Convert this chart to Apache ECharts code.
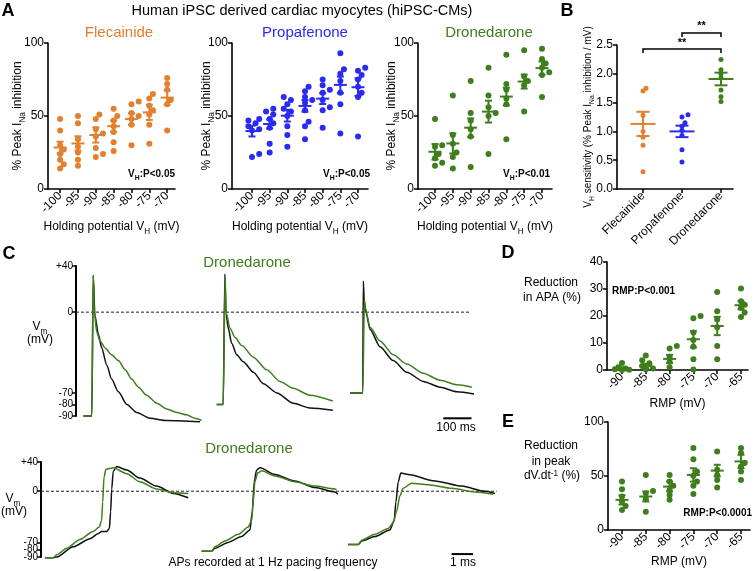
<!DOCTYPE html>
<html><head><meta charset="utf-8">
<script src="https://cdn.jsdelivr.net/npm/echarts@6/dist/echarts.min.js"></script>
<style>html,body{margin:0;padding:0;background:#fff}#c{width:756px;height:571px}</style>
</head><body><div id="c"></div>
<script>
const ORANGE = '#E2802F', BLUE = '#2A2AF2', GREEN = '#3E7E1C', BLACK = '#111';
const FONT = 'Arial, "Liberation Sans", Helvetica, sans-serif';

// ---------- Panel A : holding potential vs % peak INa inhibition ----------
const holdingPotentials = [-100, -95, -90, -85, -80, -75, -70];
const flecainideValues = [[48,40,30,27,24,20,17,14],[50,45,34,29,25,20,16],[51,48,41,38,36,28,24,22],[55,50,47,43,39,32,26],[60,58,52,50,48,44,30],[65,62,57,54,51,44,31],[76,72,68,61,58,40]];
const flecainideMean = [28.4, 31.2, 37, 43, 47.9, 52.5, 62.6];
const flecainideSem = [4.0, 4.9, 5.2, 3.8, 4.0, 5.2, 4.9];
const propafenoneValues = [[48,47,45,43,41,40,24,22],[55,53,51,48,45,42,31,25],[63,61,58,55,53,50,43,37,29],[70,67,63,61,59,54,46,43,34],[75,71,68,66,61,56,54,42],[93,82,79,74,66,58,38],[83,81,78,75,70,66,63,36]];
const propafenoneMean = [39.7, 44.5, 50.2, 56.9, 61.9, 71.3, 69.7];
const propafenoneSem = [3.7, 3.1, 4.0, 4.0, 3.7, 5.7, 6.0];
const dronedaroneValues = [[48,30,29,24,21,18,16],[64,37,31,25,22,14],[74,52,47,41,36,15],[83,64,56,52,50,24],[92,72,68,62,58,34],[95,77,74,71,53],[96,89,86,83,80,78,63]];
const dronedaroneMean = [25.5, 31.2, 42, 53, 63.3, 73.6, 82.8];
const dronedaroneSem = [5.3, 6.9, 6.3, 7.5, 6.1, 4.8, 4.6];

// ---------- Panel B : VH sensitivity ----------
const drugNames = ['Flecainide', 'Propafenone', 'Dronedarone'];
const sensitivityValues = [[1.75,1.70,1.28,1.0,0.9,0.76,0.30],[1.29,1.25,1.15,1.09,1.02,0.93,0.68,0.47],[2.25,2.07,2.0,1.93,1.72,1.6,1.52]];
const sensitivityMean = [1.13, 1.0, 1.91];
const sensitivitySem = [0.21, 0.10, 0.11];
const significancePairs = [[1, 3, 2.43, '**'], [2, 3, 2.71, '**']];

// ---------- Panels D & E : RMP ----------
const rmpValues = [-90, -85, -80, -75, -70, -65];
const apaReduction = [[2.6,1.0,0.6,0.3,0.1,0.0],[5.4,3.6,2.5,1.5,0.6,0.2],[8.9,8.0,4.9,3.1,1.0],[20,19.2,13.9,11.1,8.6,4.0,0.2],[28.9,21.8,18.7,15.8,8.9,4.0],[30.2,25.5,24.2,23,21.3,19.6]];
const apaMean = [0.6, 1.5, 4.1, 11.4, 16.3, 24];
const apaSem = [0.4, 0.8, 1.5, 3.0, 3.4, 1.5];
const dvdtReduction = [[44.9,37.8,31,26.3,22.3,18.6],[51,36.2,34,28.5,17],[51,44.9,40.9,37.2,32.5,27.9],[75.9,65.6,54.2,50.2,44.9,40.9,33.4],[72.8,55.7,51,46.4,39.3],[75.9,71.2,62,58.8,54.2,46.4]];
const dvdtMean = [27.9, 31, 40.2, 51, 55, 63.5];
const dvdtSem = [4.3, 4.6, 4.6, 6.2, 5.4, 6.2];

// ---------- Panel C : AP traces [time ms, Vm mV] ----------
const cVmTicks = [40, 0, -70, -80, -90];
const cVmTicksMain = [40, 0, -70, -90];
const cVmTicksExtra = [-80];
const cTopBlack = [
 [[26,-90],[56,-90],[61,32],[67,-3],[79,-19],[91,-31],[109,-46],[126,-58],[150,-69],[180,-80],[215,-87],[262,-92],[321,-94],[439,-95]],
 [[498,-80],[521,-80],[527,33],[531,-1],[539,-14],[551,-27],[569,-37],[592,-43],[628,-52],[663,-62],[711,-70],[769,-79],[828,-83],[909,-85]],
 [[970,-70],[1015,-70],[1017,27],[1020,10],[1027,-1],[1041,-15],[1076,-30],[1123,-42],[1171,-52],[1229,-60],[1289,-65],[1348,-69],[1409,-71]]
];
const cTopGreen = [
 [[26,-90],[56,-90],[61,32],[65,0],[73,-17],[85,-25],[103,-31],[126,-37],[150,-42],[174,-50],[197,-58],[221,-65],[250,-72],[286,-79],[321,-84],[357,-87],[392,-89],[421,-92],[445,-94]],
 [[498,-80],[521,-80],[528,31],[531,0],[545,-14],[563,-22],[587,-29],[628,-39],[675,-50],[722,-60],[769,-66],[828,-72],[909,-77]],
 [[970,-70],[1015,-70],[1021,11],[1023,4],[1041,-13],[1076,-25],[1123,-37],[1171,-45],[1229,-53],[1289,-59],[1348,-63],[1401,-65]]
];
const cTopZero = [[0,0],[1395,0]];
const cTopScaleBar = [[1300,-92],[1400,-92]];
const cBotBlack = [
 [[0.19,-91],[0.57,-91],[0.73,-90],[1.50,-76],[2.28,-65],[2.67,-58],[2.82,-55],[3.06,-55],[3.18,-51],[3.24,-28],[3.29,3],[3.36,27],[3.52,34],[3.99,29],[4.60,18],[5.38,7],[6.15,-3],[6.85,-9]],
 [[7.47,-82],[7.94,-82],[8.09,-78],[8.71,-70],[9.33,-62],[9.72,-53],[9.83,-28],[9.92,13],[10.03,29],[10.19,32],[10.88,23],[11.81,14],[12.74,5],[13.67,-1],[13.81,-4]],
 [[14.29,-73],[14.76,-73],[14.92,-68],[15.53,-62],[16.23,-53],[16.43,-40],[16.51,-15],[16.62,13],[16.74,25],[17.08,23],[18.33,14],[19.57,7],[20.65,0],[21.12,-3]]
];
const cBotGreen = [
 [[0.19,-91],[0.57,-91],[0.73,-87],[1.20,-78],[1.81,-66],[2.43,-55],[2.71,-49],[2.82,-40],[2.87,-15],[2.93,19],[3.02,30],[3.36,32],[3.99,24],[4.60,13],[5.38,3],[6.15,-2],[6.85,-3]],
 [[7.47,-82],[7.94,-82],[8.09,-76],[8.56,-68],[9.18,-59],[9.64,-49],[9.80,-40],[9.87,-15],[9.95,13],[10.08,25],[10.27,28],[10.88,21],[11.81,13],[12.74,7],[13.67,3],[13.75,2]],
 [[14.29,-73],[14.76,-73],[14.92,-67],[15.53,-59],[16.15,-51],[16.39,-43],[16.54,-28],[16.70,-6],[16.85,4],[17.24,11],[18.01,9],[19.10,4],[20.19,-1],[21.04,-4]]
];
const cBotZero = [[0,0],[21.2,0]];
const cBotScaleBar = [[19.1,-86],[20.1,-86]];

// ---------- helpers ----------
function swarm(values, ppu, d) {
  const order = values.map((v, i) => i).sort((a, b) => values[a] - values[b]);
  const placed = [], off = new Array(values.length).fill(0);
  const cands = [0, d * 0.6, -d * 0.6, d * 1.2, -d * 1.2];
  order.forEach(i => {
    const y = values[i] * ppu;
    let best = 0, bestD = -1;
    for (const c of cands) {
      const md = placed.reduce((m, p) => Math.min(m, Math.hypot(p.x - c, p.y - y)), Infinity);
      if (md >= d * 0.8) { best = c; bestD = Infinity; break; }
      if (md > bestD) { bestD = md; best = c; }
    }
    off[i] = best; placed.push({x: best, y});
  });
  return off;
}
function dots(gi, cats, vals, color, ppu, size) {
  const data = [];
  cats.forEach((c, ci) => {
    const off = swarm(vals[ci], ppu, size);
    vals[ci].forEach((v, k) => data.push({value: [c, v], symbolOffset: [off[k], 0]}));
  });
  return {type: 'scatter', xAxisIndex: gi, yAxisIndex: gi, data, symbolSize: size,
    itemStyle: {color, opacity: 1}, z: 3, silent: true, animation: false};
}
function meanSem(gi, cats, means, sems, color, mw, cw) {
  return {type: 'custom', xAxisIndex: gi, yAxisIndex: gi, z: 4, silent: true, animation: false,
    data: cats.map((c, i) => [c, means[i], sems[i]]), encode: {x: 0, y: 1},
    renderItem: (p, api) => {
      const x = api.value(0), m = api.value(1), s = api.value(2);
      const pm = api.coord([x, m]), ph = api.coord([x, m + s]), pl = api.coord([x, m - s]);
      const st = {stroke: color, lineWidth: 2};
      return {type: 'group', children: [
        {type: 'line', shape: {x1: pm[0] - mw, y1: pm[1], x2: pm[0] + mw, y2: pm[1]}, style: st},
        {type: 'line', shape: {x1: ph[0], y1: ph[1], x2: pl[0], y2: pl[1]}, style: st},
        {type: 'line', shape: {x1: ph[0] - cw, y1: ph[1], x2: ph[0] + cw, y2: ph[1]}, style: st},
        {type: 'line', shape: {x1: pl[0] - cw, y1: pl[1], x2: pl[0] + cw, y2: pl[1]}, style: st}
      ]};
    }};
}
function trace(gi, data, color, z, w) {
  return {type: 'line', xAxisIndex: gi, yAxisIndex: gi, data, symbol: 'none', clip: false,
    smooth: 0.25, smoothMonotone: 'x', lineStyle: {color, width: w || 1.5}, z, silent: true, animation: false};
}
const AXL = {show: true, onZero: false, lineStyle: {color: '#000', width: 1.6}};
const TICK = {show: true, length: 4, lineStyle: {color: '#000', width: 1.5}};
const nameRich = (fs) => ({
  n: {fontSize: fs, lineHeight: fs + 2, verticalAlign: 'top', fontFamily: FONT, color: '#000'},
  s: {fontSize: fs * 0.68, lineHeight: fs * 0.68, padding: [fs * 0.6, 0, 0, 0], verticalAlign: 'top', fontFamily: FONT, color: '#000'}
});
function catX(gi, min, max, cats, name, gap, fmt) {
  return {type: 'value', gridIndex: gi, min, max, axisLine: AXL,
    axisTick: Object.assign({customValues: cats}, TICK),
    axisLabel: {customValues: cats, rotate: 45, fontSize: 12, color: '#000', fontFamily: FONT, margin: 5, formatter: fmt || (v => String(v))},
    splitLine: {show: false}, name, nameLocation: 'middle', nameGap: gap, nameMoveOverlap: false,
    nameTextStyle: {fontSize: 12, fontFamily: FONT, color: '#000', rich: nameRich(12)}};
}
function valY(gi, min, max, interval, name, gap, fs, fmt) {
  return {type: 'value', gridIndex: gi, min, max, interval, axisLine: AXL, axisTick: TICK,
    axisLabel: {fontSize: 12, color: '#000', fontFamily: FONT, margin: 4, formatter: fmt || (v => String(v))},
    splitLine: {show: false}, name, nameLocation: 'middle', nameGap: gap, nameRotate: 90, nameMoveOverlap: false,
    nameTextStyle: {fontSize: fs, fontFamily: FONT, color: '#000', rich: nameRich(fs)}};
}
const vmFmt = v => v > 0 ? '+' + v : String(v);
function cY(gi, labels, showLine) {
  return {type: 'value', gridIndex: gi, min: -90, max: 40, position: 'left', offset: 0,
    axisLine: {show: showLine, onZero: false, lineStyle: {color: '#000', width: 2}},
    axisTick: {show: showLine, customValues: cVmTicks, length: 4, lineStyle: {color: '#000', width: 1.5}},
    axisLabel: {customValues: labels, fontSize: 10, lineHeight: 10, margin: 3, color: '#000', fontFamily: FONT,
      hideOverlap: false, showMinLabel: true, showMaxLabel: true, formatter: vmFmt},
    splitLine: {show: false}};
}
function txt(x, y, text, o) {
  o = o || {};
  const st = {text, fill: o.color || '#000', fontSize: o.size || 12, fontFamily: FONT, fontWeight: o.weight || 'normal',
    align: o.align || 'center', verticalAlign: 'middle'};
  if (o.rich) st.rich = o.rich;
  return {type: 'text', x, y, silent: true, z: 10, style: st};
}
const gRich = (fs, weight) => ({
  n: {fontSize: fs, lineHeight: fs + 2, verticalAlign: 'top', fontFamily: FONT, fontWeight: weight || 'normal', fill: '#000'},
  s: {fontSize: fs * 0.68, lineHeight: fs * 0.68, padding: [fs * 0.6, 0, 0, 0], verticalAlign: 'top', fontFamily: FONT, fontWeight: weight || 'normal', fill: '#000'},
  p: {fontSize: fs * 0.68, lineHeight: fs * 0.68, padding: [0, 0, fs * 0.6, 0], verticalAlign: 'top', fontFamily: FONT, fontWeight: weight || 'normal', fill: '#000'}
});

const yNameA = '{n|% Peak I}{s|Na}{n| inhibition}';
const xNameA = '{n|Holding potential V}{s|H}{n| (mV)}';

const option = {
  animation: false,
  backgroundColor: '#fff',
  grid: [
    {left: 48, top: 43, width: 127, height: 146},
    {left: 232, top: 43, width: 136, height: 146},
    {left: 418, top: 43, width: 134, height: 146},
    {left: 617, top: 45, width: 116, height: 144},
    {left: 607, top: 262, width: 141, height: 108},
    {left: 608, top: 422, width: 142, height: 108},
    {left: 76, top: 266, width: 404, height: 150},
    {left: 41, top: 462, width: 460, height: 95}
  ],
  xAxis: [
    catX(0, -103.4, -67.8, holdingPotentials, xNameA, 32),
    catX(1, -105.66, -67.17, holdingPotentials, xNameA, 32),
    catX(2, -104.77, -67.2, holdingPotentials, xNameA, 32),
    catX(3, 0.333, 3.308, [1, 2, 3], '', 30, v => drugNames[Math.round(v) - 1]),
    catX(4, -93.15, -63.53, rmpValues, 'RMP (mV)', 28),
    catX(5, -92.94, -63.11, rmpValues, 'RMP (mV)', 26),
    {type: 'value', gridIndex: 6, min: 0, max: 1430, show: false},
    {type: 'value', gridIndex: 7, min: 0, max: 21.4, show: false}
  ],
  yAxis: [
    valY(0, 0, 100, 50, yNameA, 22, 12),
    valY(1, 0, 100, 50, yNameA, 17, 12),
    valY(2, 0, 100, 50, yNameA, 18, 12),
    valY(3, 0, 2.5, 0.5, '{n|V}{s|H}{n| sensitivity (% Peak I}{s|Na}{n| inhibition / mV)}', 22, 10, v => v.toFixed(1)),
    valY(4, 0, 40, 10, '', 0, 12),
    valY(5, 0, 100, 50, '', 0, 12),
    cY(6, cVmTicks, true),
    cY(7, cVmTicksMain, true),
    cY(7, cVmTicksExtra, false)
  ],
  series: [
    dots(0, holdingPotentials, flecainideValues, ORANGE, 1.46, 6),
    meanSem(0, holdingPotentials, flecainideMean, flecainideSem, ORANGE, 6.5, 3.5),
    dots(1, holdingPotentials, propafenoneValues, BLUE, 1.46, 6),
    meanSem(1, holdingPotentials, propafenoneMean, propafenoneSem, BLUE, 6.5, 3.5),
    dots(2, holdingPotentials, dronedaroneValues, GREEN, 1.46, 6),
    meanSem(2, holdingPotentials, dronedaroneMean, dronedaroneSem, GREEN, 6.5, 3.5),
    dots(3, [1], [sensitivityValues[0]], ORANGE, 57.6, 5),
    dots(3, [2], [sensitivityValues[1]], BLUE, 57.6, 5),
    dots(3, [3], [sensitivityValues[2]], GREEN, 57.6, 5),
    meanSem(3, [1], [sensitivityMean[0]], [sensitivitySem[0]], ORANGE, 12.5, 6.5),
    meanSem(3, [2], [sensitivityMean[1]], [sensitivitySem[1]], BLUE, 12.5, 6.5),
    meanSem(3, [3], [sensitivityMean[2]], [sensitivitySem[2]], GREEN, 12.5, 6.5),
    {type: 'custom', xAxisIndex: 3, yAxisIndex: 3, z: 5, silent: true, data: significancePairs, encode: {x: [0, 1], y: 2},
      renderItem: (p, api) => {
        const a = api.coord([api.value(0), api.value(2)]), b = api.coord([api.value(1), api.value(2)]);
        const label = significancePairs[p.dataIndex][3];
        return {type: 'group', children: [
          {type: 'polyline', shape: {points: [[a[0], a[1] + 4], a, b, [b[0], b[1] + 4]]}, style: {stroke: '#000', lineWidth: 1.5, fill: null}},
          {type: 'text', x: (a[0] + b[0]) / 2, y: a[1] - 1, style: {text: label, fontSize: 11, fontWeight: 'bold', fontFamily: FONT, fill: '#000', align: 'center', verticalAlign: 'bottom'}}
        ]};
      }},
    dots(4, rmpValues, apaReduction, GREEN, 2.7, 6),
    meanSem(4, rmpValues, apaMean, apaSem, GREEN, 6.5, 3.5),
    dots(5, rmpValues, dvdtReduction, GREEN, 1.08, 6),
    meanSem(5, rmpValues, dvdtMean, dvdtSem, GREEN, 6.5, 3.5),
    {type: 'line', xAxisIndex: 6, yAxisIndex: 6, data: cTopZero, symbol: 'none', silent: true, z: 1,
      lineStyle: {color: '#222', width: 1, type: [3, 2]}},
    ...cTopBlack.map(d => trace(6, d, BLACK, 2)),
    ...cTopGreen.map(d => trace(6, d, GREEN, 3)),
    {type: 'line', xAxisIndex: 6, yAxisIndex: 6, data: cTopScaleBar, symbol: 'none', silent: true, clip: false,
      lineStyle: {color: '#000', width: 2}},
    {type: 'line', xAxisIndex: 7, yAxisIndex: 7, data: cBotZero, symbol: 'none', silent: true, z: 1,
      lineStyle: {color: '#222', width: 1, type: [3, 2]}},
    ...cBotBlack.map(d => trace(7, d, BLACK, 2)),
    ...cBotGreen.map(d => trace(7, d, GREEN, 3)),
    {type: 'line', xAxisIndex: 7, yAxisIndex: 7, data: cBotScaleBar, symbol: 'none', silent: true, clip: false,
      lineStyle: {color: '#000', width: 2}}
  ],
  graphic: [
    txt(8, 11, 'A', {size: 18, weight: 'bold'}),
    txt(302, 11, 'Human iPSC derived cardiac myocytes (hiPSC-CMs)', {size: 14.5}),
    txt(567, 11, 'B', {size: 18, weight: 'bold'}),
    txt(119, 33, 'Flecainide', {size: 15, color: ORANGE}),
    txt(305, 33, 'Propafenone', {size: 15, color: BLUE}),
    txt(489, 33, 'Dronedarone', {size: 15, color: GREEN}),
    txt(175, 175, '{n|V}{s|H}{n|:P<0.05}', {align: 'right', rich: gRich(10, 'bold')}),
    txt(370, 175, '{n|V}{s|H}{n|:P<0.05}', {align: 'right', rich: gRich(10, 'bold')}),
    txt(550, 175, '{n|V}{s|H}{n|:P<0.01}', {align: 'right', rich: gRich(10, 'bold')}),
    txt(9, 254, 'C', {size: 18, weight: 'bold'}),
    txt(247, 263, 'Dronedarone', {size: 15, color: GREEN}),
    txt(40, 328, '{n|V}{s|m}', {rich: gRich(12)}),
    txt(40, 340, '(mV)', {size: 12}),
    txt(456, 428, '100 ms', {size: 12}),
    txt(249, 449, 'Dronedarone', {size: 15, color: GREEN}),
    txt(13, 500, '{n|V}{s|m}', {rich: gRich(12)}),
    txt(14, 512, '(mV)', {size: 12}),
    txt(273, 563, 'APs recorded at 1 Hz pacing frequency', {size: 12}),
    txt(463, 563, '1 ms', {size: 12}),
    txt(508, 253, 'D', {size: 18, weight: 'bold'}),
    txt(551, 283, 'Reduction', {size: 12}),
    txt(552, 298, 'in APA (%)', {size: 12}),
    txt(612, 291, 'RMP:P<0.001', {size: 10, weight: 'bold', align: 'left'}),
    txt(508, 422, 'E', {size: 18, weight: 'bold'}),
    txt(551, 446, 'Reduction', {size: 12}),
    txt(551, 462, 'in peak', {size: 12}),
    txt(552, 477, '{n|dV.dt}{p|-1}{n| (%)}', {rich: gRich(12)}),
    txt(752, 513, 'RMP:P<0.0001', {size: 10, weight: 'bold', align: 'right'})
  ]
};
const chart = echarts.init(document.getElementById('c'), null, {renderer: 'canvas'});
chart.setOption(option);
</script></body></html>
